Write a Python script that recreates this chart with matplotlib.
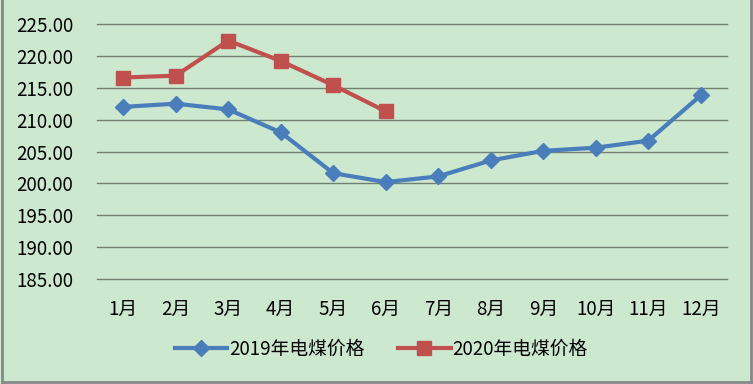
import matplotlib.pyplot as plt
from matplotlib.lines import Line2D

plt.rcParams['font.family'] = ['Noto Sans CJK SC', 'DejaVu Sans']

months = ['1月', '2月', '3月', '4月', '5月', '6月', '7月', '8月', '9月', '10月', '11月', '12月']
price_2019 = [212.0, 212.5, 211.6, 208.0, 201.6, 200.2, 201.1, 203.6, 205.1, 205.6, 206.7, 213.8]
price_2020 = [216.6, 216.9, 222.4, 219.2, 215.4, 211.3]
yticks = [185, 190, 195, 200, 205, 210, 215, 220, 225]

bg = '#cce8cf'
blue = '#4a7ebb'
red = '#c0504d'

fig = plt.figure(figsize=(7.53, 3.84), dpi=100, facecolor=bg)
ax = fig.add_axes([0.1288, 0.2734, 0.8367, 0.6641])
ax.set_facecolor(bg)

x = list(range(len(months)))
ax.plot(x, price_2019, color=blue, lw=3, marker='D', ms=8.5, label='2019年电煤价格')
ax.plot(x[:len(price_2020)], price_2020, color=red, lw=3, marker='s', ms=10, label='2020年电煤价格')

ax.set_xlim(-0.5, 11.5)
ax.set_ylim(185, 225)
ax.set_yticks(yticks)
ax.set_yticklabels([f'{v:.2f}' for v in yticks], fontsize=13.5)
ax.set_xticks(x)
ax.set_xticklabels(months, fontsize=13.5)
ax.tick_params(length=0)
ax.tick_params(axis='x', pad=14)
ax.tick_params(axis='y', pad=17)
ax.grid(axis='y', color='#728272', lw=1, clip_on=False)
ax.set_axisbelow(True)
for s in ax.spines.values():
    s.set_visible(False)

ax.legend(loc='center', bbox_to_anchor=(0.451, -0.275), ncol=2, frameon=False,
          fontsize=13.5, handlelength=2.8, columnspacing=1.8, handletextpad=0.1)

# outer border
fig.add_artist(Line2D([0.002, 0.002], [0.003, 1], color='#888888', lw=2))
fig.add_artist(Line2D([0.997, 0.997], [0.003, 1], color='#888888', lw=2))
fig.add_artist(Line2D([0.002, 0.997], [0.004, 0.004], color='#888888', lw=2))

fig.savefig('out.png', dpi=100, facecolor=bg)
